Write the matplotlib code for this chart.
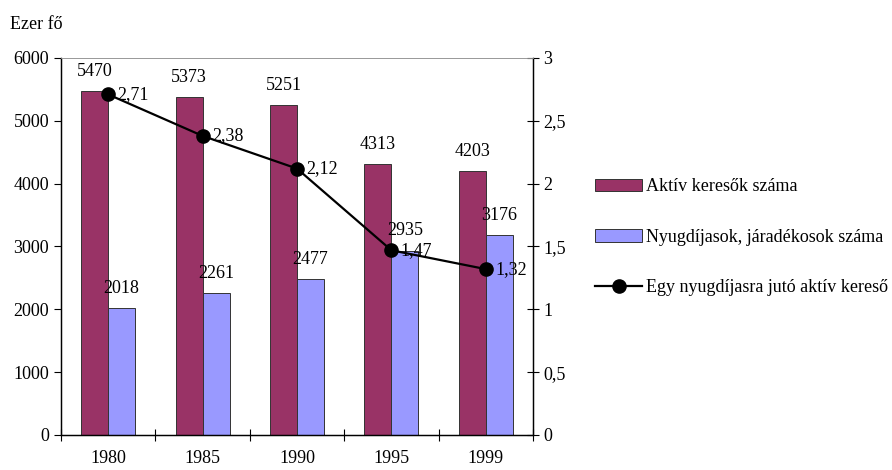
import matplotlib.pyplot as plt
import numpy as np
from matplotlib.lines import Line2D
from matplotlib.patches import Patch

plt.rcParams['font.family'] = ['Liberation Serif', 'DejaVu Serif']

# adatok
evek = ["1980", "1985", "1990", "1995", "1999"]
aktiv = [5470, 5373, 5251, 4313, 4203]
nyugdijas = [2018, 2261, 2477, 2935, 3176]
arany = [2.71, 2.38, 2.12, 1.47, 1.32]

maroon = "#993366"
kek = "#9999FF"
fs = 13

fig = plt.figure(figsize=(8.92, 4.7), dpi=100)
ax = fig.add_axes([0.0684, 0.0745, 0.5291, 0.8021])
ax2 = ax.twinx()

x = np.arange(len(evek))
w = 0.285
ax.bar(x - w / 2, aktiv, w, color=maroon, edgecolor="#333333", linewidth=0.7)
ax.bar(x + w / 2, nyugdijas, w, color=kek, edgecolor="#333333", linewidth=0.7)
for xi, v in zip(x, aktiv):
    ax.text(xi - w / 2, v + 180, str(v), ha="center", va="bottom", fontsize=fs)
for xi, v in zip(x, nyugdijas):
    ax.text(xi + w / 2, v + 180, str(v), ha="center", va="bottom", fontsize=fs)

ax2.plot(x, arany, "k-", marker="o", markersize=9.5, linewidth=1.6)
for xi, v in zip(x, arany):
    ax2.text(xi + 0.1, v, f"{v:.2f}".replace(".", ","), ha="left", va="center", fontsize=fs)

ax.set_xlim(-0.5, len(evek) - 0.5)
ax.set_ylim(0, 6000)
ax.set_yticks(range(0, 6001, 1000))
ax2.set_ylim(0, 3)
ax2.set_yticks(np.arange(0, 3.01, 0.5))
ax2.set_yticklabels(["0", "0,5", "1", "1,5", "2", "2,5", "3"])

ax.set_xticks(x)
ax.set_xticklabels(evek)
ax.set_xticks(np.arange(-0.5, len(evek), 1), minor=True)
ax.tick_params(axis="x", which="major", length=0, pad=11, labelsize=fs)
ax.tick_params(axis="x", which="minor", direction="inout", length=8, width=0.8)
ax.tick_params(axis="y", direction="out", length=5, width=0.8, labelsize=fs)
ax2.tick_params(axis="y", direction="inout", length=8, width=0.8, labelsize=fs)

for a in (ax, ax2):
    a.spines["top"].set_color("#999999")
    a.spines["top"].set_linewidth(0.6)
    for s in ("left", "right", "bottom"):
        a.spines[s].set_linewidth(0.9)

fig.text(0.011, 0.948, "Ezer fő", fontsize=fs, ha="left", va="center")

handles = [
    Patch(facecolor=maroon, edgecolor="#333333", linewidth=0.7),
    Patch(facecolor=kek, edgecolor="#333333", linewidth=0.7),
    Line2D([0], [0], color="k", marker="o", markersize=9.5, linewidth=1.6),
]
labels = ["Aktív keresők száma", "Nyugdíjasok, járadékosok száma",
          "Egy nyugdíjasra jutó aktív kereső"]
fig.legend(handles, labels, loc="upper left", bbox_to_anchor=(0.649, 0.655),
           frameon=False, fontsize=fs, handlelength=2.6, labelspacing=1.85,
           handletextpad=0.2)

fig.savefig("out.png", dpi=100)
